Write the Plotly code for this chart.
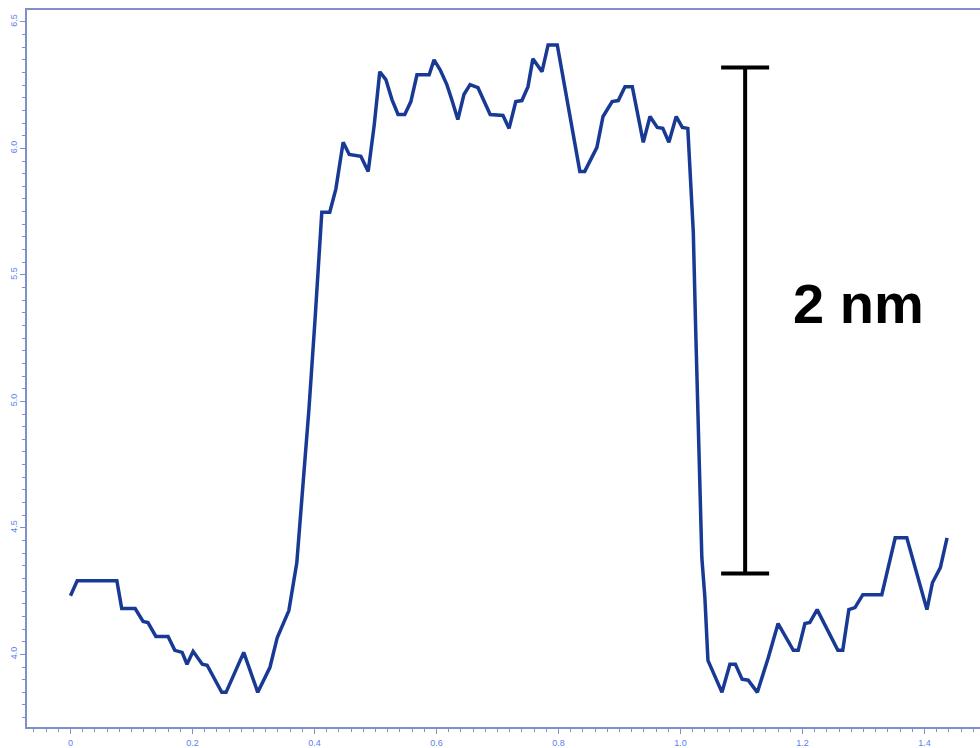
import plotly.graph_objects as go

# Height profile across the step (distance vs. height)
distance = [
    0.000, 0.011, 0.076, 0.084, 0.106, 0.119, 0.127, 0.140, 0.160, 0.171,
    0.183, 0.191, 0.201, 0.216, 0.224, 0.248, 0.255, 0.284, 0.307, 0.327,
    0.339, 0.358, 0.371, 0.381, 0.391, 0.401, 0.407, 0.412, 0.425, 0.435,
    0.447, 0.457, 0.476, 0.488, 0.498, 0.507, 0.517, 0.527, 0.537, 0.548,
    0.558, 0.568, 0.588, 0.596, 0.606, 0.617, 0.625, 0.635, 0.645, 0.655,
    0.668, 0.688, 0.709, 0.719, 0.730, 0.740, 0.750, 0.758, 0.773, 0.783,
    0.798, 0.835, 0.843, 0.863, 0.873, 0.888, 0.898, 0.909, 0.921, 0.939,
    0.950, 0.962, 0.971, 0.981, 0.993, 1.003, 1.012, 1.016, 1.021, 1.025,
    1.030, 1.035, 1.040, 1.045, 1.068, 1.081, 1.090, 1.101, 1.111, 1.126,
    1.144, 1.160, 1.185, 1.193, 1.204, 1.212, 1.224, 1.258, 1.266, 1.276,
    1.286, 1.299, 1.330, 1.352, 1.371, 1.404, 1.413, 1.426, 1.437,
]
height = [
    4.232, 4.291, 4.291, 4.181, 4.181, 4.130, 4.126, 4.071, 4.071, 4.016,
    4.008, 3.961, 4.012, 3.961, 3.957, 3.850, 3.850, 4.008, 3.850, 3.949,
    4.067, 4.173, 4.362, 4.657, 4.972, 5.327, 5.563, 5.748, 5.748, 5.839,
    6.024, 5.976, 5.969, 5.909, 6.094, 6.303, 6.272, 6.193, 6.134, 6.134,
    6.185, 6.291, 6.291, 6.350, 6.311, 6.252, 6.193, 6.114, 6.213, 6.252,
    6.240, 6.134, 6.130, 6.079, 6.185, 6.189, 6.244, 6.354, 6.303, 6.409,
    6.409, 5.909, 5.909, 6.004, 6.126, 6.185, 6.189, 6.244, 6.244, 6.024,
    6.126, 6.083, 6.079, 6.024, 6.126, 6.083, 6.079, 5.917, 5.669, 5.276,
    4.815, 4.382, 4.224, 3.976, 3.850, 3.961, 3.961, 3.902, 3.898, 3.850,
    3.988, 4.122, 4.016, 4.016, 4.122, 4.126, 4.177, 4.016, 4.016, 4.177,
    4.185, 4.236, 4.236, 4.461, 4.461, 4.177, 4.283, 4.343, 4.461,
]

x_tick_vals = [0, 0.2, 0.4, 0.6, 0.8, 1.0, 1.2, 1.4]
x_tick_text = ["0", "0.2", "0.4", "0.6", "0.8", "1.0", "1.2", "1.4"]
y_tick_vals = [4.0, 4.5, 5.0, 5.5, 6.0, 6.5]
y_tick_text = ["4.0", "4.5", "5.0", "5.5", "6.0", "6.5"]

# Scale bar: 2 nm of height
scale_bar_x = 1.106
scale_bar_bottom = 4.32
scale_bar_length = 2.0
scale_bar_label = "2 nm"

axis_color = "#7f8fcc"
tick_font = dict(family="Liberation Sans, Arial, sans-serif", size=9, color="#5b7ff0")
line_color = "#183a95"

fig = go.Figure()

fig.add_trace(go.Scatter(
    x=distance, y=height, mode="lines",
    line=dict(color=line_color, width=3.5),
    hoverinfo="skip", showlegend=False,
))

# Scale bar drawn as an error bar around its midpoint
fig.add_trace(go.Scatter(
    x=[scale_bar_x], y=[scale_bar_bottom + scale_bar_length / 2],
    mode="markers", marker=dict(size=1, color="rgba(0,0,0,0)"),
    error_y=dict(type="data", array=[scale_bar_length / 2], visible=True,
                 color="black", thickness=4, width=24),
    hoverinfo="skip", showlegend=False,
))

fig.add_annotation(
    x=1.291, y=5.386, xref="x", yref="y", text="<b>" + scale_bar_label + "</b>",
    showarrow=False, font=dict(family="Liberation Sans, Arial, sans-serif", size=56, color="black"),
)

fig.update_layout(
    width=980, height=748,
    margin=dict(l=27, r=0, t=10, b=18),
    paper_bgcolor="white", plot_bgcolor="white",
    xaxis=dict(
        range=[-0.0713, 1.491], showgrid=False, zeroline=False,
        showline=True, linecolor=axis_color, linewidth=1.5, mirror=True,
        tickmode="array", tickvals=x_tick_vals, ticktext=x_tick_text,
        ticks="outside", ticklen=5, tickwidth=1, tickcolor=axis_color,
        tickfont=tick_font, ticklabelstandoff=1,
        minor=dict(dtick=0.02, ticks="outside", ticklen=3, tickwidth=1, tickcolor=axis_color),
    ),
    yaxis=dict(
        range=[3.713, 6.547], showgrid=False, zeroline=False,
        showline=True, linecolor=axis_color, linewidth=1.5,
        tickmode="array", tickvals=y_tick_vals, ticktext=y_tick_text,
        ticks="outside", ticklen=5, tickwidth=1, tickcolor=axis_color,
        tickfont=tick_font, tickangle=-90,
        minor=dict(dtick=0.05, ticks="outside", ticklen=3, tickwidth=1, tickcolor=axis_color),
    ),
)

fig.write_html("out.html")
